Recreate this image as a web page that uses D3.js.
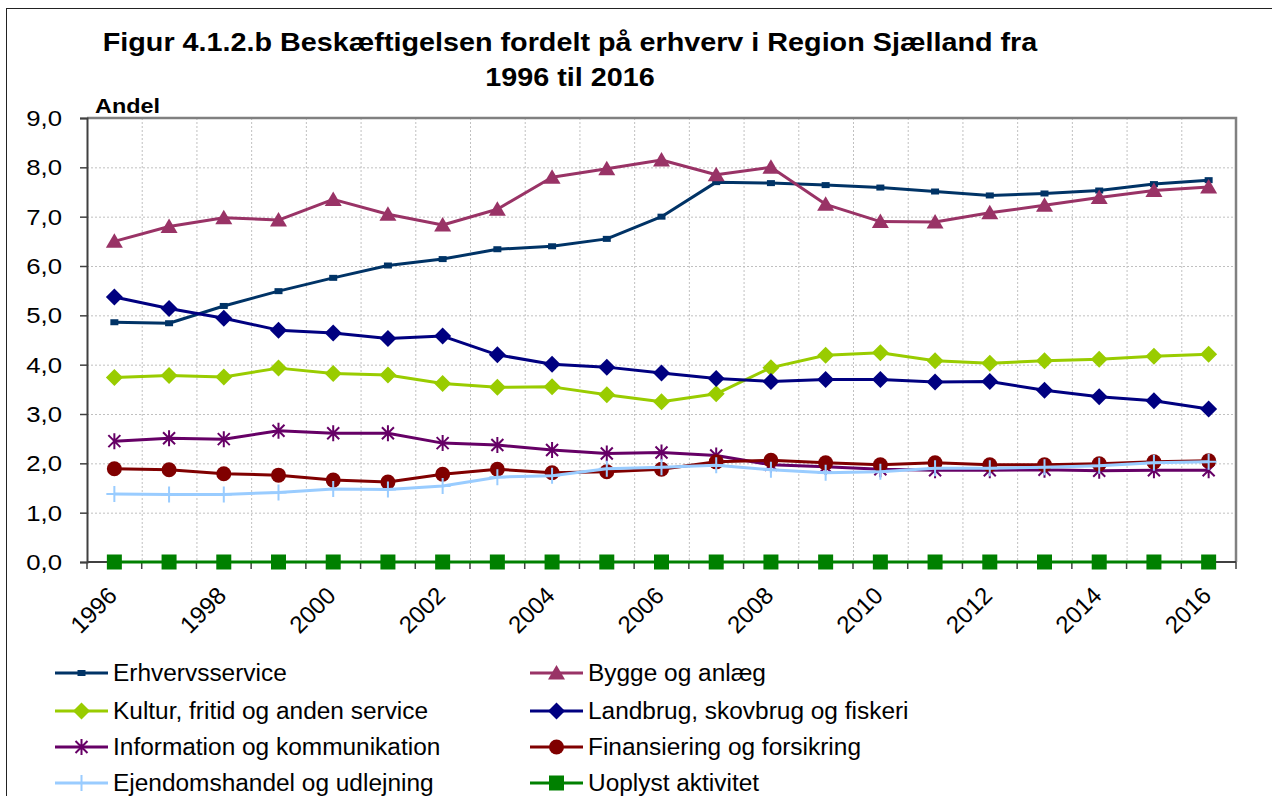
<!DOCTYPE html>
<html>
<head>
<meta charset="utf-8">
<script src="https://cdn.jsdelivr.net/npm/d3@7"></script>
<style>
  body { margin: 0; background: #fff; }
  text { font-family: Arial, "Liberation Sans", sans-serif; fill: #000; }
</style>
</head>
<body>
<svg id="chart" width="1272" height="796"></svg>
<script>
// data (andel i procent)
const years = [1996, 1997, 1998, 1999, 2000, 2001, 2002, 2003, 2004, 2005, 2006,
               2007, 2008, 2009, 2010, 2011, 2012, 2013, 2014, 2015, 2016];
const yTicks = [0, 1, 2, 3, 4, 5, 6, 7, 8, 9];
const xLabelYears = [1996, 1998, 2000, 2002, 2004, 2006, 2008, 2010, 2012, 2014, 2016];

const erhvervsservice = [4.86, 4.84, 5.19, 5.49, 5.76, 6.01, 6.14, 6.34, 6.40, 6.55, 7.00,
                         7.70, 7.68, 7.64, 7.59, 7.51, 7.43, 7.47, 7.53, 7.66, 7.74];
const bygge = [6.50, 6.80, 6.98, 6.93, 7.35, 7.05, 6.83, 7.15, 7.80, 7.97, 8.15,
               7.85, 8.00, 7.25, 6.90, 6.89, 7.08, 7.23, 7.39, 7.53, 7.60];
const kultur = [3.74, 3.78, 3.75, 3.93, 3.82, 3.79, 3.62, 3.54, 3.55, 3.39, 3.25,
                3.41, 3.94, 4.19, 4.24, 4.08, 4.03, 4.08, 4.11, 4.17, 4.21];
const landbrug = [5.37, 5.14, 4.94, 4.70, 4.64, 4.53, 4.58, 4.20, 4.01, 3.95, 3.83,
                  3.72, 3.66, 3.70, 3.70, 3.65, 3.66, 3.48, 3.35, 3.27, 3.10];
const information = [2.45, 2.51, 2.49, 2.66, 2.61, 2.61, 2.41, 2.37, 2.27, 2.20, 2.22,
                     2.16, 1.97, 1.93, 1.88, 1.86, 1.86, 1.87, 1.85, 1.86, 1.86];
const finansiering = [1.89, 1.87, 1.79, 1.76, 1.66, 1.62, 1.78, 1.88, 1.81, 1.83, 1.88,
                      2.03, 2.06, 2.01, 1.97, 2.01, 1.97, 1.97, 1.99, 2.03, 2.05];
const ejendom = [1.38, 1.37, 1.37, 1.41, 1.48, 1.47, 1.54, 1.72, 1.75, 1.89, 1.92,
                 1.96, 1.87, 1.81, 1.83, 1.90, 1.90, 1.92, 1.95, 2.01, 2.03];
const uoplyst = [0, 0, 0, 0, 0, 0, 0, 0, 0, 0, 0,
                 0, 0, 0, 0, 0, 0, 0, 0, 0, 0];

const seriesNames = ["Erhvervsservice", "Bygge og anlæg", "Kultur, fritid og anden service",
  "Landbrug, skovbrug og fiskeri", "Information og kommunikation", "Finansiering og forsikring",
  "Ejendomshandel og udlejning", "Uoplyst aktivitet"];
const seriesValues = [erhvervsservice, bygge, kultur, landbrug, information, finansiering, ejendom, uoplyst];
const seriesColors = ["#003366", "#993366", "#99CC00", "#000080", "#660066", "#800000", "#99CCFF", "#008000"];
const seriesMarkers = ["smallSquare", "triangle", "diamond", "diamond", "asterisk", "circle", "plus", "square"];

const svg = d3.select("#chart");
const plot = { left: 87, right: 1236, top: 118, bottom: 562 };

const x = d3.scaleBand().domain(years).range([plot.left, plot.right]).padding(0);
const y = d3.scaleLinear().domain([0, 9]).range([plot.bottom, plot.top]);
const cx = d => x(d) + x.bandwidth() / 2;
const fmt = v => d3.format(".1f")(v).replace(".", ",");

// outer chart border
svg.append("rect").attr("x", 6.5).attr("y", 8.5).attr("width", 1300).attr("height", 900)
  .attr("fill", "none").attr("stroke", "#222").attr("stroke-width", 1);

// title (the original is a bit wider than the font, so stretch it)
const title = svg.append("text").attr("text-anchor", "middle")
  .attr("transform", "translate(570,0) scale(1.15,1)")
  .style("font-size", "25px").style("font-weight", "bold");
title.append("tspan").attr("x", 0).attr("y", 51).text("Figur 4.1.2.b Beskæftigelsen fordelt på erhverv i Region Sjælland fra");
title.append("tspan").attr("x", 0).attr("y", 86).text("1996 til 2016");

svg.append("text").attr("transform", "translate(95,113) scale(1.17,1)")
  .style("font-size", "20px").style("font-weight", "bold").text("Andel");

// gridlines
const grid = svg.append("g").attr("stroke", "#c0c0c0").attr("stroke-width", 1)
  .attr("stroke-dasharray", "2,2");
grid.selectAll("line.h").data(yTicks.filter(t => t > 0)).join("line")
  .attr("x1", plot.left).attr("x2", plot.right)
  .attr("y1", d => y(d) + 0.5).attr("y2", d => y(d) + 0.5);
grid.selectAll("line.v").data(years.slice(1)).join("line")
  .attr("x1", d => x(d) + 0.5).attr("x2", d => x(d) + 0.5)
  .attr("y1", plot.top).attr("y2", plot.bottom);

// plot frame (top / right)
svg.append("path")
  .attr("d", `M${plot.left},${plot.top}H${plot.right}V${plot.bottom}`)
  .attr("fill", "none").attr("stroke", "#808080").attr("stroke-width", 2.5);

// y axis
const yAxis = svg.append("g").attr("transform", `translate(${plot.left},0)`)
  .call(d3.axisLeft(y).tickValues(yTicks).tickFormat(fmt).tickSize(7).tickPadding(0));
yAxis.select(".domain").attr("stroke", "#404040").attr("stroke-width", 2);
yAxis.selectAll(".tick line").attr("stroke", "#404040").attr("stroke-width", 1.5);
yAxis.selectAll(".tick text")
  .attr("x", null)
  .attr("transform", "translate(-25,0) scale(1.12,1)")
  .style("font-size", "23px").style("font-family", "Arial, 'Liberation Sans', sans-serif")
  .attr("fill", "#000");

// x axis: ticks at category boundaries
const xAxis = svg.append("g");
xAxis.append("line").attr("x1", plot.left).attr("x2", plot.right)
  .attr("y1", plot.bottom).attr("y2", plot.bottom).attr("stroke", "#404040").attr("stroke-width", 2);
xAxis.selectAll("line.tick").data(years.concat([null])).join("line")
  .attr("x1", d => d === null ? plot.right : x(d)).attr("x2", d => d === null ? plot.right : x(d))
  .attr("y1", plot.bottom).attr("y2", plot.bottom + 7)
  .attr("stroke", "#404040").attr("stroke-width", 1.5);
xAxis.selectAll("text").data(xLabelYears).join("text")
  .attr("transform", d => `translate(${cx(d) + 4},${plot.bottom + 35}) rotate(-45)`)
  .attr("text-anchor", "end")
  .style("font-size", "24px")
  .text(d => d);

// marker shapes
function marker(sel, type, color) {
  if (type === "smallSquare") {
    sel.append("rect").attr("x", -4).attr("y", -3).attr("width", 8).attr("height", 6).attr("fill", color);
  } else if (type === "square") {
    sel.append("rect").attr("x", -7.5).attr("y", -7.5).attr("width", 15).attr("height", 15).attr("fill", color);
  } else if (type === "triangle") {
    sel.append("path").attr("d", "M0,-8L8.5,6.5L-8.5,6.5Z").attr("fill", color);
  } else if (type === "diamond") {
    sel.append("path").attr("d", "M0,-8.5L8.5,0L0,8.5L-8.5,0Z").attr("fill", color);
  } else if (type === "circle") {
    sel.append("circle").attr("r", 7.5).attr("fill", color);
  } else if (type === "asterisk") {
    sel.append("path").attr("d", "M-6,-6L6,6M-6,6L6,-6M0,-8L0,8")
      .attr("stroke", color).attr("stroke-width", 2).attr("fill", "none");
  } else if (type === "plus") {
    sel.append("path").attr("d", "M-8,0L8,0M0,-8L0,8")
      .attr("stroke", color).attr("stroke-width", 2).attr("fill", "none");
  }
}

// series
const line = d3.line().x((d, i) => cx(years[i])).y(d => y(d));
seriesValues.forEach((vals, s) => {
  const g = svg.append("g");
  g.append("path").datum(vals).attr("d", line)
    .attr("fill", "none").attr("stroke", seriesColors[s]).attr("stroke-width", 3)
    .attr("stroke-linejoin", "round");
  g.selectAll("g.m").data(vals).join("g")
    .attr("transform", (d, i) => `translate(${cx(years[i])},${y(d)})`)
    .each(function () { marker(d3.select(this), seriesMarkers[s], seriesColors[s]); });
});

// legend (two columns)
const legendCols = [55, 530];
const legendRows = [673, 711, 747, 783];
seriesNames.forEach((name, s) => {
  const lx = legendCols[s % 2], ly = legendRows[Math.floor(s / 2)];
  const g = svg.append("g").attr("transform", `translate(${lx},${ly})`);
  g.append("line").attr("x1", 0).attr("x2", 53).attr("y1", 0).attr("y2", 0)
    .attr("stroke", seriesColors[s]).attr("stroke-width", 3);
  marker(g.append("g").attr("transform", "translate(26.5,0)"), seriesMarkers[s], seriesColors[s]);
  g.append("text").attr("transform", "translate(58,0) scale(1.04,1)").attr("dy", "0.36em")
    .style("font-size", "23.5px").text(name);
});
</script>
</body>
</html>
